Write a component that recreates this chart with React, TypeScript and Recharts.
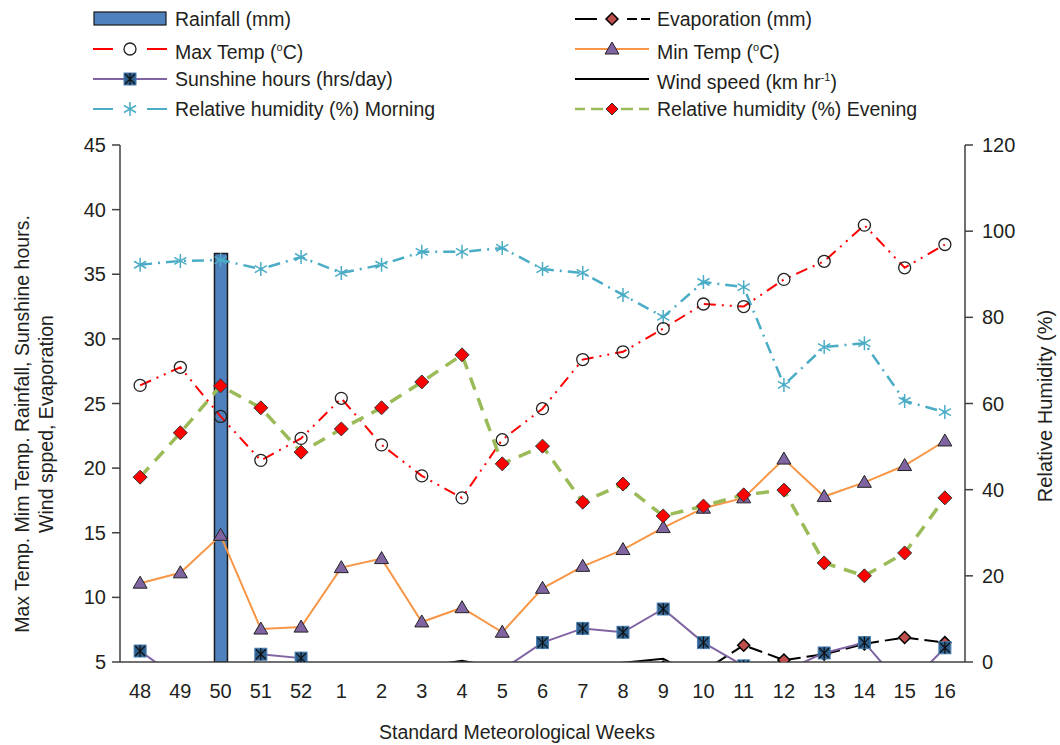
import React from 'react';
import { ComposedChart, Bar, Line, XAxis, YAxis } from 'recharts';

const FONT = '"Liberation Sans", Arial, sans-serif';
const TEXT = '#231f20';
const AXIS = '#404040';

const weeks = ['48', '49', '50', '51', '52', '1', '2', '3', '4', '5', '6', '7', '8', '9', '10', '11', '12', '13', '14', '15', '16'];
const rainfall = [null, null, 36.6, null, null, null, null, null, null, null, null, null, null, null, null, null, null, null, null, null, null];
const maxTemp = [26.4, 27.8, 24.0, 20.6, 22.3, 25.4, 21.8, 19.4, 17.7, 22.2, 24.6, 28.4, 29.0, 30.8, 32.7, 32.5, 34.6, 36.0, 38.8, 35.5, 37.3];
const minTemp = [11.1, 11.9, 14.8, 7.55, 7.7, 12.3, 13.0, 8.1, 9.2, 7.3, 10.7, 12.4, 13.7, 15.4, 16.9, 17.7, 20.7, 17.8, 18.9, 20.2, 22.1];
const sunshine = [5.85, 3.6, 2.0, 5.6, 5.3, 3.3, 3.8, 3.5, 4.0, 4.4, 6.5, 7.6, 7.3, 9.1, 6.5, 4.7, 4.3, 5.7, 6.5, 2.9, 6.1];
const evaporation = [3.0, 2.5, 2.2, 2.4, 2.2, 2.6, 2.8, 3.2, 3.6, 3.4, 3.9, 4.2, 4.4, 4.6, 4.3, 6.3, 5.15, 5.6, 6.4, 6.9, 6.5];
const windSpeed = [3.2, 2.8, 3.5, 2.6, 2.4, 3.0, 3.4, 4.6, 5.1, 4.5, 3.9, 4.4, 4.95, 5.25, 3.6, 3.8, 4.2, 4.0, 4.5, 4.3, 4.6];
const rhMorning = [92.2, 93.1, 93.3, 91.2, 94.0, 90.3, 92.2, 95.2, 95.2, 96.1, 91.2, 90.3, 85.2, 80.1, 88.2, 87.0, 64.3, 73.1, 74.0, 60.6, 58.0];
const rhEvening = [42.9, 53.2, 64.1, 59.0, 48.7, 54.1, 59.0, 65.0, 71.3, 46.0, 50.1, 37.1, 41.3, 33.9, 36.2, 38.8, 39.9, 23.0, 20.0, 25.3, 38.1];

const leftTicks = [5, 10, 15, 20, 25, 30, 35, 40, 45];
const rightTicks = [0, 20, 40, 60, 80, 100, 120];

const data = weeks.map((week, i) => ({
  week,
  rainfall: rainfall[i],
  maxTemp: maxTemp[i],
  minTemp: minTemp[i],
  sunshine: sunshine[i],
  evaporation: evaporation[i],
  windSpeed: windSpeed[i],
  rhMorning: rhMorning[i],
  rhEvening: rhEvening[i],
}));

// marker shapes
const OpenCircle = ({ cx, cy }: any) => <circle cx={cx} cy={cy} r={6} fill="none" stroke="#222" strokeWidth={1.3} />;
const Triangle = ({ cx, cy }: any) => (
  <polygon points={`${cx},${cy - 7} ${cx + 7},${cy + 5} ${cx - 7},${cy + 5}`} fill="#8064a2" stroke="#222" strokeWidth={1} />
);
const SunSquare = ({ cx, cy }: any) => (
  <g>
    <rect x={cx - 6} y={cy - 6} width={12} height={12} fill="#2c5f8e" stroke="#4a7fb0" strokeWidth={1} />
    <path d={`M${cx - 5},${cy - 5}L${cx + 5},${cy + 5}M${cx + 5},${cy - 5}L${cx - 5},${cy + 5}M${cx},${cy - 6}L${cx},${cy + 6}`} stroke="#111" strokeWidth={1.2} />
  </g>
);
const Diamond = ({ cx, cy, fill, size = 7, stroke = '#333', sw = 1 }: any) => (
  <polygon points={`${cx},${cy - size} ${cx + size},${cy} ${cx},${cy + size} ${cx - size},${cy}`} fill={fill} stroke={stroke} strokeWidth={sw} />
);
const Asterisk = ({ cx, cy }: any) => {
  const r = 7;
  const a = r * Math.cos(Math.PI / 6);
  const b = r * Math.sin(Math.PI / 6);
  return (
    <path
      d={`M${cx},${cy - r}L${cx},${cy + r}M${cx - a},${cy - b}L${cx + a},${cy + b}M${cx - a},${cy + b}L${cx + a},${cy - b}`}
      stroke="#4bacc6"
      strokeWidth={1.5}
    />
  );
};

const dotOf = (Shape: any, extra: any = {}) => (props: any) => {
  const { cx, cy, index, value } = props;
  if (cx == null || cy == null || value == null) return <g key={`e-${index}`} />;
  return (
    <g key={`d-${index}`}>
      <Shape cx={cx} cy={cy} {...extra} />
    </g>
  );
};

const Titles = () => (
  <g fontFamily={FONT} fill={TEXT}>
    <text transform="translate(29,424) rotate(-90)" textAnchor="middle" fontSize={19.5}>
      <tspan x={0} dy={0}>Max Temp. Mim Temp. Rainfall, Sunshine hours.</tspan>
      <tspan x={0} dy={24}>Wind spped, Evaporation</tspan>
    </text>
  </g>
);
const RightTitle = () => (
  <text transform="translate(1052,406) rotate(-90)" textAnchor="middle" fontSize={20} fontFamily={FONT} fill={TEXT}>
    Relative Humidity (%)
  </text>
);
const BottomTitle = () => (
  <text x={517} y={739} textAnchor="middle" fontSize={19.5} fontFamily={FONT} fill={TEXT}>
    Standard Meteorological Weeks
  </text>
);

// legend icons, drawn in a 75x20 box
const icon = (kind: string) => {
  switch (kind) {
    case 'rain':
      return <rect x={1} y={3} width={72} height={13} fill="#4f81bd" stroke="#1a1a1a" strokeWidth={1.2} />;
    case 'max':
      return (
        <g>
          <path d="M0,10H20M54,10H74" stroke="#ff0000" strokeWidth={2} />
          <OpenCircle cx={37} cy={10} />
        </g>
      );
    case 'sun':
      return (
        <g>
          <path d="M0,10H74" stroke="#8064a2" strokeWidth={2} />
          <SunSquare cx={37} cy={10} />
        </g>
      );
    case 'rhm':
      return (
        <g>
          <path d="M0,10H20M54,10H74" stroke="#4bacc6" strokeWidth={2} />
          <Asterisk cx={37} cy={10} />
        </g>
      );
    case 'evap':
      return (
        <g>
          <path d="M0,10H22M52,10H62M66,10H75" stroke="#000" strokeWidth={2} />
          <Diamond cx={37} cy={10} fill="#c0504d" stroke="#000" sw={1.5} size={6} />
        </g>
      );
    case 'min':
      return (
        <g>
          <path d="M0,10H74" stroke="#f79646" strokeWidth={2} />
          <Triangle cx={37} cy={10} />
        </g>
      );
    case 'wind':
      return <path d="M0,10H74" stroke="#000" strokeWidth={2} />;
    default:
      return (
        <g>
          <path d="M0,10H10M16,10H28M46,10H58M64,10H74" stroke="#9bbb59" strokeWidth={2.5} />
          <Diamond cx={37} cy={10} fill="#ff0000" size={6} />
        </g>
      );
  }
};

const legendLeft = [
  { kind: 'rain', label: 'Rainfall (mm)' },
  { kind: 'max', label: <>Max Temp (<sup style={{ fontSize: 11 }}>o</sup>C)</> },
  { kind: 'sun', label: 'Sunshine hours (hrs/day)' },
  { kind: 'rhm', label: 'Relative humidity (%) Morning' },
];
const legendRight = [
  { kind: 'evap', label: 'Evaporation (mm)' },
  { kind: 'min', label: <>Min Temp (<sup style={{ fontSize: 11 }}>o</sup>C)</> },
  { kind: 'wind', label: <>Wind speed (km hr<sup style={{ fontSize: 11 }}>-1</sup>)</> },
  { kind: 'rhe', label: 'Relative humidity (%) Evening' },
];

const LegendColumn = ({ items, left }: { items: any[]; left: number }) => (
  <>
    {items.map((it, i) => (
      <div
        key={it.kind}
        style={{
          position: 'absolute',
          left,
          top: 8 + i * 30,
          height: 22,
          display: 'flex',
          alignItems: 'center',
          whiteSpace: 'nowrap',
          fontFamily: FONT,
          fontSize: 19.5,
          color: TEXT,
        }}
      >
        <svg width={75} height={20} style={{ overflow: 'visible' }}>{icon(it.kind)}</svg>
        <span style={{ marginLeft: 7, lineHeight: '22px' }}>{it.label}</span>
      </div>
    ))}
  </>
);

export default function App() {
  return (
    <div style={{ position: 'absolute', left: 0, top: 0, width: 1060, height: 745, background: '#fff' }}>
      <LegendColumn items={legendLeft} left={93} />
      <LegendColumn items={legendRight} left={575} />
      <ComposedChart width={1060} height={745} data={data} margin={{ top: 145, left: 60, right: 35, bottom: 53 }}>
        <XAxis
          dataKey="week"
          tickLine={false}
          axisLine={{ stroke: AXIS, strokeWidth: 1.5 }}
          tick={{ fontSize: 20, fill: TEXT, fontFamily: FONT }}
          tickMargin={16}
          height={30}
          interval={0}
          label={<BottomTitle />}
        />
        <YAxis
          yAxisId="left"
          domain={[5, 45]}
          ticks={leftTicks}
          allowDataOverflow
          width={60}
          tickSize={8}
          tickMargin={6}
          axisLine={{ stroke: AXIS, strokeWidth: 1.5 }}
          tickLine={{ stroke: AXIS, strokeWidth: 1.5 }}
          tick={{ fontSize: 20, fill: TEXT, fontFamily: FONT }}
          label={<Titles />}
        />
        <YAxis
          yAxisId="right"
          orientation="right"
          domain={[0, 120]}
          ticks={rightTicks}
          width={60}
          tickSize={8}
          tickMargin={9}
          axisLine={{ stroke: AXIS, strokeWidth: 1.5 }}
          tickLine={{ stroke: AXIS, strokeWidth: 1.5 }}
          tick={{ fontSize: 20, fill: TEXT, fontFamily: FONT }}
          label={<RightTitle />}
        />
        <Bar yAxisId="left" dataKey="rainfall" barSize={13} fill="#4f81bd" stroke="#1a1a1a" strokeWidth={1.5} isAnimationActive={false} />
        <Line yAxisId="left" dataKey="windSpeed" stroke="#000" strokeWidth={2} dot={false} isAnimationActive={false} />
        <Line yAxisId="left" dataKey="evaporation" stroke="#000" strokeWidth={2} strokeDasharray="14 6" dot={dotOf(Diamond, { fill: '#c0504d', stroke: '#000', sw: 1.5, size: 6 })} isAnimationActive={false} />
        <Line yAxisId="right" dataKey="rhMorning" stroke="#4bacc6" strokeWidth={2.5} strokeDasharray="12 6 2 6" dot={dotOf(Asterisk)} isAnimationActive={false} />
        <Line yAxisId="left" dataKey="maxTemp" stroke="#ff0000" strokeWidth={2} strokeDasharray="12 6 2 6 2 6" dot={dotOf(OpenCircle)} isAnimationActive={false} />
        <Line yAxisId="left" dataKey="minTemp" stroke="#f79646" strokeWidth={2} dot={dotOf(Triangle)} isAnimationActive={false} />
        <Line yAxisId="left" dataKey="sunshine" stroke="#8064a2" strokeWidth={2} dot={dotOf(SunSquare)} isAnimationActive={false} />
        <Line yAxisId="right" dataKey="rhEvening" stroke="#9bbb59" strokeWidth={3.5} strokeDasharray="13 9" dot={dotOf(Diamond, { fill: '#ff0000' })} isAnimationActive={false} />
      </ComposedChart>
    </div>
  );
}
